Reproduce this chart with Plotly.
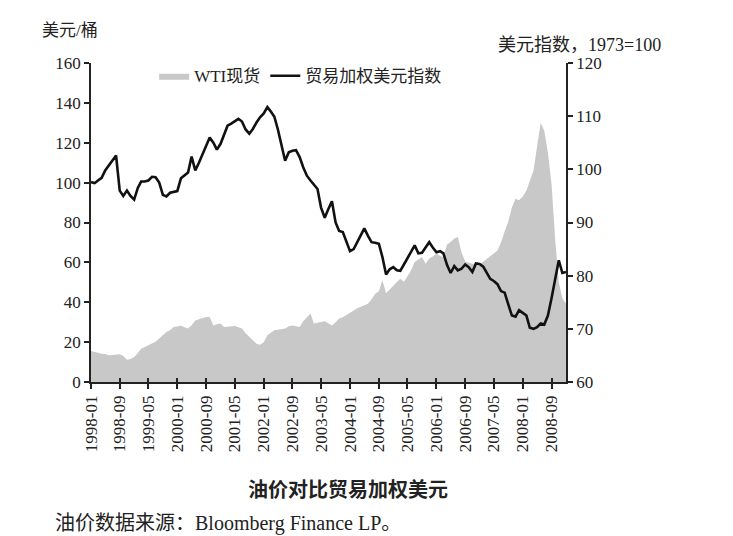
import pandas as pd
import plotly.graph_objects as go

# monthly, 1998-01 .. 2009-01
months = pd.date_range("1998-01-01", periods=133, freq="MS")

# WTI spot, USD per barrel
wti = [
    15.5, 15.0, 14.5, 14.2, 14.0, 13.4, 13.6, 13.8, 13.9, 13.0, 11.2, 11.5,
    12.5, 14.5, 16.7, 17.5, 18.5, 19.2, 20.2, 21.8, 23.5, 25.1, 26.0, 27.6,
    27.8, 28.4, 27.5, 26.8, 28.5, 30.9, 31.5, 32.0, 32.6, 32.6, 28.4, 29.0,
    29.3, 27.6, 27.8, 28.0, 28.1, 27.5, 26.8, 24.5, 22.6, 21.0, 19.2, 18.7,
    20.0, 23.4, 24.5, 25.9, 26.2, 26.5, 26.8, 28.0, 28.4, 28.0, 27.6, 30.5,
    32.5, 34.3, 29.3, 29.8, 30.1, 30.5, 29.5, 28.4, 30.0, 31.8, 32.5, 33.5,
    34.5, 35.8, 37.0, 37.8, 38.6, 39.3, 41.5, 44.3, 45.5, 51.0, 44.5, 46.5,
    48.0, 50.1, 51.8, 50.3, 53.0, 56.0, 60.2, 61.5, 62.7, 59.3, 62.0, 63.0,
    64.4, 63.2, 62.7, 69.0, 70.2, 72.0, 72.7, 65.0, 60.5, 59.8, 59.3, 59.3,
    59.3, 60.3, 61.5, 63.0, 64.5, 66.0, 70.0, 75.5, 80.5, 87.5, 91.9, 91.2,
    93.0, 96.0, 100.5, 106.0, 118.0, 130.0, 126.0, 115.0, 99.0, 72.0, 50.0, 42.0,
    39.3,
]

# trade-weighted dollar index, 1973=100
usd_index = [
    97.6, 97.4, 97.9, 98.4, 99.8, 100.7, 101.5, 102.6, 96.0, 95.0, 96.0, 95.0,
    94.3, 96.5, 97.7, 97.7, 97.9, 98.6, 98.5, 97.5, 95.2, 94.9, 95.6, 95.8,
    95.9, 98.3, 98.8, 99.4, 102.4, 99.8, 101.2, 102.9, 104.5, 106.0, 105.0, 103.7,
    104.8, 106.5, 108.2, 108.6, 109.0, 109.5, 109.0, 107.5, 106.7, 107.6, 108.8, 109.8,
    110.5, 111.7, 110.9, 109.9, 107.5, 104.5, 101.6, 103.2, 103.5, 103.6, 102.3, 100.4,
    98.8, 97.9, 97.1, 96.3, 92.8, 90.9, 92.5, 94.0, 90.0, 88.4, 88.2, 86.5,
    84.6, 85.0, 86.2, 87.5, 88.9, 87.5, 86.3, 86.2, 86.0, 83.5, 80.2, 81.2,
    81.6, 81.0, 80.9, 82.1, 83.3, 84.6, 85.7, 84.2, 84.3, 85.3, 86.3, 85.3,
    84.4, 84.6, 84.2, 82.0, 80.5, 81.8, 81.0, 81.3, 82.1, 81.6, 80.7, 82.3,
    82.2, 81.7, 80.6, 79.4, 79.0, 78.4, 77.1, 76.8, 74.6, 72.5, 72.3, 73.5,
    73.0, 72.5, 70.2, 70.0, 70.3, 71.0, 70.8, 72.5, 75.8, 79.5, 82.9, 80.5,
    80.7,
]

serif = "Liberation Serif, Noto Sans CJK SC"
cjk = "Noto Sans CJK SC"
ink = "#222222"

fig = go.Figure()
fig.add_trace(go.Scatter(
    x=months, y=wti, name="WTI现货",
    fill="tozeroy", mode="lines",
    line=dict(width=0, color="#c8c8c8"), fillcolor="#c8c8c8",
))
# the index line sits on its own x overlay so that axis can carry the inner tick halves
fig.add_trace(go.Scatter(
    x=months, y=usd_index, name="贸易加权美元指数", xaxis="x2", yaxis="y2",
    mode="lines", line=dict(color="#111111", width=2.6),
))

ticks_out = dict(showgrid=False, zeroline=False, showline=True,
                 linecolor=ink, linewidth=1.5, ticks="outside",
                 tickcolor=ink, tickwidth=1.5, ticklen=5,
                 tickfont=dict(family=serif, size=17, color=ink))
ticks_in = dict(showgrid=False, zeroline=False, showline=False,
                ticks="inside", tickcolor=ink, tickwidth=1.5, ticklen=4,
                showticklabels=False)

x_range = ["1998-01-01", "2009-01-01"]
x_ticks = dict(type="date", range=x_range, tick0="1998-01-01", dtick="M8")

fig.update_layout(
    width=733, height=536,
    margin=dict(l=83, r=175, t=55, b=162),
    paper_bgcolor="white", plot_bgcolor="white",
    font=dict(family=serif, size=15, color=ink),
    xaxis=dict(tickformat="%Y-%m", tickangle=-90, **x_ticks, **ticks_out),
    xaxis2=dict(overlaying="x", side="bottom", anchor="y", **x_ticks, **ticks_in),
    yaxis=dict(range=[0, 160], dtick=20, **ticks_out),
    yaxis2=dict(range=[60, 120], dtick=10, overlaying="y", side="right",
                anchor="x2", **ticks_out),
    yaxis3=dict(range=[0, 160], dtick=20, overlaying="y", side="left",
                anchor="x", **ticks_in),
    yaxis4=dict(range=[60, 120], dtick=10, overlaying="y", side="right",
                anchor="x", **ticks_in),
    legend=dict(orientation="h", x=0.133, y=1.015, yanchor="top",
                bgcolor="rgba(0,0,0,0)",
                font=dict(family=serif, size=17, color=ink)),
    annotations=[
        dict(text="美元/桶", xref="paper", yref="paper", x=-0.107, y=1.102,
             xanchor="left", yanchor="middle", showarrow=False,
             font=dict(family=serif, size=17)),
        dict(text="美元指数，1973=100", xref="paper", yref="paper", x=0.852, y=1.055,
             xanchor="left", yanchor="middle", showarrow=False,
             font=dict(family=serif, size=18)),
        dict(text="<b>油价对比贸易加权美元</b>", xref="paper", yref="paper",
             x=0.541, y=-0.334, xanchor="center", yanchor="middle", showarrow=False,
             font=dict(family=cjk, size=20)),
        dict(text="油价数据来源：Bloomberg Finance LP。", xref="paper", yref="paper",
             x=-0.08, y=-0.443, xanchor="left", yanchor="middle", showarrow=False,
             font=dict(family=serif, size=20)),
    ],
)

fig.write_html("out.html")
